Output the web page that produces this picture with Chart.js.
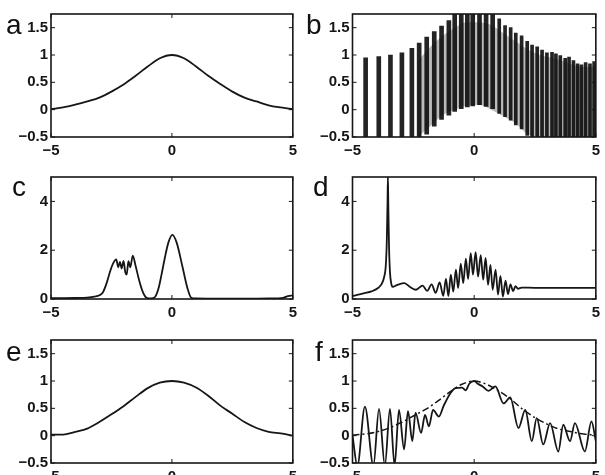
<!DOCTYPE html>
<html>
<head>
<meta charset="utf-8">
<script src="https://cdn.jsdelivr.net/npm/chart.js@4.4.1/dist/chart.umd.min.js"></script>
<style>
  html, body { margin: 0; padding: 0; background: #fff; }
  #wrap { position: relative; width: 605px; height: 475px; overflow: hidden; }
  #wrap canvas { position: absolute; }
  .tag { position: absolute; font-family: "Liberation Sans", Arial, sans-serif; font-size: 28px; line-height: 27px; color: #111; }
</style>
</head>
<body>
<div id="wrap">
  <canvas id="pa" width="302" height="160" style="left:0;top:0"></canvas>
  <canvas id="pb" width="303" height="160" style="left:302px;top:0"></canvas>
  <canvas id="pc" width="302" height="160" style="left:0;top:160px"></canvas>
  <canvas id="pd" width="303" height="160" style="left:302px;top:160px"></canvas>
  <canvas id="pe" width="302" height="155" style="left:0;top:320px"></canvas>
  <canvas id="pf" width="303" height="155" style="left:302px;top:320px"></canvas>
  <div class="tag" style="left:6px;top:11px">a</div>
  <div class="tag" style="left:306px;top:11px">b</div>
  <div class="tag" style="left:12px;top:173px">c</div>
  <div class="tag" style="left:313px;top:173px">d</div>
  <div class="tag" style="left:6px;top:338px">e</div>
  <div class="tag" style="left:315px;top:338px">f</div>
</div>
<script>
// tick values
const xTicks   = [-5, 0, 5];
const yTicksAB = [-0.5, 0, 0.5, 1, 1.5];
const yTicksCD = [0, 2, 4];

// a) initial profile
const aX = [-5, -4.5, -4, -3.5, -3, -2.5, -2, -1.5, -1, -0.5, 0, 0.5, 1, 1.5, 2, 2.5, 3, 3.5, 4, 4.5, 5];
const aY = [0.01, 0.04, 0.09, 0.15, 0.22, 0.33, 0.46, 0.62, 0.79, 0.94, 1.0, 0.94, 0.79, 0.62, 0.47, 0.33, 0.22, 0.15, 0.08, 0.04, 0.01];

// b) dense oscillation: each stripe low/high, plus grey background band
const bX  = [-4.46, -3.92, -3.44, -2.97, -2.56, -2.26, -1.95, -1.64, -1.34, -1.04, -0.80, -0.53, -0.28, -0.06, 0.22, 0.49, 0.76, 1.03, 1.27, 1.50, 1.71, 1.95, 2.18, 2.38, 2.59, 2.79, 2.99, 3.20, 3.36, 3.54, 3.74, 3.90, 4.08, 4.25, 4.41, 4.58, 4.76, 4.93];
const bHi = [0.95, 0.97, 1.0, 1.04, 1.12, 1.22, 1.33, 1.43, 1.53, 1.63, 1.75, 1.75, 1.75, 1.75, 1.75, 1.75, 1.75, 1.66, 1.54, 1.5, 1.4, 1.35, 1.25, 1.18, 1.15, 1.09, 1.04, 1.05, 1.02, 0.99, 0.94, 0.96, 0.9, 0.84, 0.82, 0.86, 0.84, 0.88];
const bLo = [-0.5, -0.5, -0.5, -0.5, -0.5, -0.5, -0.45, -0.3, -0.18, -0.1, -0.03, 0.02, 0.05, 0.07, 0.09, 0.06, 0.02, -0.07, -0.13, -0.19, -0.28, -0.35, -0.47, -0.5, -0.5, -0.5, -0.5, -0.5, -0.5, -0.5, -0.5, -0.5, -0.5, -0.5, -0.5, -0.5, -0.5, -0.5];
const bandX  = [-2.3, -1.8, -1.3, -0.8, -0.3, 0.2, 0.7, 1.2, 1.7, 2.2, 2.7, 3.2, 3.7, 4.2, 4.7, 5];
const bandHi = [0.9, 1.15, 1.35, 1.5, 1.6, 1.6, 1.55, 1.4, 1.25, 1.1, 1.0, 0.95, 0.88, 0.8, 0.78, 0.8];
const bandLo = [-0.5, -0.3, -0.1, 0.0, 0.07, 0.09, 0.0, -0.12, -0.25, -0.45, -0.5, -0.5, -0.5, -0.5, -0.5, -0.5];

// c) two humps
const cX = [-5, -4, -3.5, -3.2, -3, -2.85, -2.7, -2.55, -2.42, -2.3, -2.22, -2.15, -2.08, -2.0, -1.93, -1.87, -1.8, -1.72, -1.62, -1.5, -1.35, -1.2, -1.05, -0.85, -0.7, -0.55, -0.43, -0.3, -0.15, 0.02, 0.2, 0.43, 0.64, 0.8, 1.0, 2, 3, 4, 4.6, 4.8, 5];
const cY = [0.03, 0.04, 0.06, 0.1, 0.15, 0.28, 0.65, 1.15, 1.48, 1.62, 1.3, 1.52, 1.25, 1.56, 1.1, 1.0, 1.55, 1.3, 1.78, 1.35, 0.75, 0.28, 0.05, 0.02, 0.08, 0.45, 1.0, 1.65, 2.3, 2.63, 2.3, 1.35, 0.45, 0.05, 0.02, 0.01, 0.01, 0.02, 0.05, 0.12, 0.15];

// d) spike + oscillating packet
const dX = [-5, -4.77, -4.5, -4.22, -3.95, -3.8, -3.7, -3.63, -3.59, -3.56, -3.545, -3.53, -3.5, -3.46, -3.41, -3.36, -3.15, -2.87, -2.62, -2.39, -2.12, -1.93, -1.75, -1.58, -1.42, -1.27, -1.16, -1.06, -0.96, -0.86, -0.75, -0.66, -0.55, -0.45, -0.34, -0.25, -0.14, -0.05, 0.06, 0.16, 0.27, 0.37, 0.47, 0.57, 0.67, 0.76, 0.88, 0.98, 1.08, 1.18, 1.29, 1.39, 1.49, 1.6, 1.7, 1.8, 1.95, 2.5, 3.5, 5];
const dY = [0.12, 0.18, 0.24, 0.31, 0.45, 0.62, 0.9, 1.4, 2.4, 4.0, 5.0, 4.0, 2.2, 1.1, 0.65, 0.5, 0.58, 0.65, 0.48, 0.38, 0.55, 0.33, 0.6, 0.25, 0.68, 0.13, 0.82, 0.12, 1.0, 0.3, 1.2, 0.45, 1.45, 0.65, 1.65, 0.82, 1.88, 1.0, 1.92, 0.92, 1.8, 0.79, 1.68, 0.58, 1.4, 0.38, 1.2, 0.18, 0.95, 0.1, 0.75, 0.2, 0.6, 0.32, 0.53, 0.42, 0.47, 0.46, 0.46, 0.46];

// e) recovered profile
const eX = [-5, -4.5, -4, -3.5, -3, -2.5, -2, -1.5, -1, -0.5, 0, 0.5, 1, 1.5, 2, 2.5, 3, 3.5, 4, 4.5, 5];
const eY = [0.02, 0.02, 0.07, 0.13, 0.25, 0.39, 0.54, 0.71, 0.87, 0.97, 1.0, 0.97, 0.88, 0.73, 0.55, 0.4, 0.25, 0.14, 0.07, 0.04, 0.0];

// f) noisy reconstruction (solid) vs exact (dash-dot)
const fX = [-5, -4.8, -4.49, -4.14, -3.91, -3.67, -3.46, -3.27, -3.09, -2.88, -2.72, -2.54, -2.41, -2.18, -2.02, -1.86, -1.69, -1.45, -1.25, -0.97, -0.77, -0.5, -0.35, -0.2, 0.0, 0.15, 0.35, 0.59, 0.87, 1.21, 1.48, 1.82, 2.1, 2.37, 2.57, 2.84, 3.12, 3.46, 3.66, 3.94, 4.14, 4.55, 4.82, 5];
const fY = [0.0, -0.55, 0.53, -0.55, 0.49, -0.55, 0.49, -0.55, 0.47, -0.25, 0.45, -0.1, 0.42, 0.05, 0.38, 0.17, 0.47, 0.35, 0.55, 0.78, 0.87, 0.88, 0.83, 0.95, 1.0, 0.95, 0.9, 0.82, 0.9, 0.59, 0.7, 0.14, 0.47, -0.1, 0.32, -0.16, 0.23, -0.29, 0.2, -0.1, 0.23, -0.29, 0.26, -0.1];
const gX = [-5, -4.5, -4, -3.5, -3, -2.5, -2, -1.5, -1, -0.5, 0, 0.5, 1, 1.5, 2, 2.5, 3, 3.5, 4, 4.5, 5];
const gY = [0.01, 0.03, 0.07, 0.14, 0.24, 0.36, 0.48, 0.63, 0.8, 0.94, 1.0, 0.94, 0.82, 0.67, 0.48, 0.33, 0.21, 0.12, 0.07, 0.03, 0.01];

const INK = "#161616";
const tickFont = { family: '"Liberation Sans", Arial, sans-serif', size: 15, weight: "bold" };

Chart.defaults.animation = false;
Chart.defaults.plugins.legend.display = false;
Chart.defaults.plugins.tooltip.enabled = false;
Chart.defaults.elements.point.radius = 0;

function pts(xs, ys) {
  return xs.map((x, i) => ({ x, y: ys[i] }));
}

function fmt(v) {
  return (v < 0 ? "\u2212" : "") + Math.abs(v);
}

function curve(xs, ys, extra) {
  return Object.assign({
    type: "line",
    data: pts(xs, ys),
    borderColor: INK,
    borderWidth: 1.8,
    cubicInterpolationMode: "monotone",
    fill: false
  }, extra || {});
}

// stripes of panel b, thinner once they get denser on the right
function stripes(keep, width) {
  return {
    type: "bar",
    data: bX.map((x, i) => ({ x, y: [bLo[i], bHi[i]] })).filter(p => keep(p.x)),
    backgroundColor: "rgba(12,12,12,0.9)",
    borderWidth: 0,
    barThickness: width,
    grouped: false,
    order: 0
  };
}

// box round the plot + small inward ticks on all four sides
const frame = {
  id: "frame",
  afterDatasetsDraw(chart) {
    const { ctx, chartArea: a, scales: { x, y } } = chart;
    ctx.save();
    ctx.strokeStyle = INK;
    ctx.lineWidth = 1;
    ctx.beginPath();
    x.ticks.forEach(t => {
      const p = x.getPixelForValue(t.value);
      ctx.moveTo(p, a.bottom); ctx.lineTo(p, a.bottom - 4);
      ctx.moveTo(p, a.top);    ctx.lineTo(p, a.top + 4);
    });
    y.ticks.forEach(t => {
      const p = y.getPixelForValue(t.value);
      ctx.moveTo(a.left, p);  ctx.lineTo(a.left + 4, p);
      ctx.moveTo(a.right, p); ctx.lineTo(a.right - 4, p);
    });
    ctx.stroke();
    ctx.lineWidth = 1.6;
    ctx.strokeRect(a.left, a.top, a.right - a.left, a.bottom - a.top);
    ctx.restore();
  }
};

function panel(id, datasets, o) {
  return new Chart(document.getElementById(id), {
    type: "line",
    data: { datasets },
    options: {
      responsive: false,
      layout: { padding: { left: 0, top: o.top, right: o.right, bottom: 0 } },
      scales: {
        x: {
          type: "linear", min: -5, max: 5, offset: false,
          grid: { display: false, drawTicks: false }, border: { display: false },
          ticks: { padding: 5, color: INK, font: tickFont, callback: fmt, autoSkip: false, maxRotation: 0 },
          afterBuildTicks: s => { s.ticks = xTicks.map(v => ({ value: v })); },
          afterFit: s => { s.height = o.xh; }
        },
        y: {
          type: "linear", min: o.ymin, max: o.ymax,
          grid: { display: false, drawTicks: false }, border: { display: false },
          ticks: { padding: 3, color: INK, font: tickFont, callback: fmt, autoSkip: false },
          afterBuildTicks: s => { s.ticks = o.yt.map(v => ({ value: v })); },
          afterFit: s => { s.width = o.yw; }
        }
      }
    },
    plugins: [frame]
  });
}

const row1 = { top: 14, xh: 23 }, row2 = { top: 17, xh: 21 }, row3 = { top: 20, xh: 12 };
const colL = { yw: 51, right: 6 }, colR = { yw: 50.5, right: 7 };
const small = { ymin: -0.5, ymax: 1.75, yt: yTicksAB };
const tall  = { ymin: 0, ymax: 5, yt: yTicksCD };

panel("pa", [curve(aX, aY)], { ...row1, ...colL, ...small });

panel("pb", [
  stripes(x => x < 1, 4),
  stripes(x => x >= 1, 3),
  curve(bandX, bandHi, { borderWidth: 0, fill: "+1", backgroundColor: "rgba(0,0,0,0.27)", order: 1 }),
  curve(bandX, bandLo, { borderWidth: 0, order: 2 })
], { ...row1, ...colR, ...small });

panel("pc", [curve(cX, cY)], { ...row2, ...colL, ...tall });
panel("pd", [curve(dX, dY)], { ...row2, ...colR, ...tall });
panel("pe", [curve(eX, eY)], { ...row3, ...colL, ...small });
panel("pf", [
  curve(fX, fY),
  curve(gX, gY, { borderDash: [7, 3, 2, 3], borderWidth: 1.5 })
], { ...row3, ...colR, ...small });
</script>
</body>
</html>
